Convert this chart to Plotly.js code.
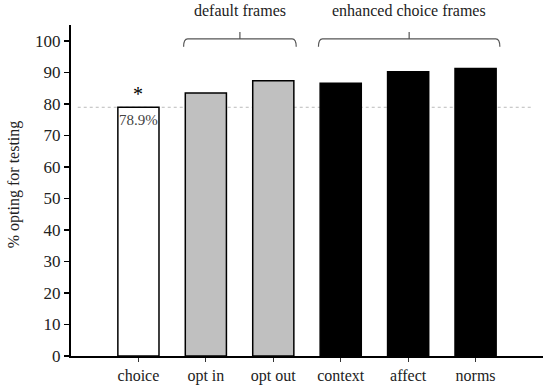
<!DOCTYPE html>
<html><head><meta charset="utf-8">
<script src="https://cdn.plot.ly/plotly-3.0.1.min.js"></script>
<style>body{margin:0;background:#fff}#c{width:550px;height:389px}</style>
</head><body><div id="c"></div>
<script>
var categories = ["choice", "opt in", "opt out", "context", "affect", "norms"];
var values = [78.9, 83.4, 87.3, 86.5, 90.2, 91.2];
var yTicks = [0, 10, 20, 30, 40, 50, 60, 70, 80, 90, 100];
var groupLabels = ["default frames", "enhanced choice frames"];
var groupSpans = [[0.67, 2.34], [2.67, 5.36]];
var choiceLabel = "78.9%";

var barColors = ["#ffffff", "#c0c0c0", "#c0c0c0", "#000000", "#000000", "#000000"];
var FONT = "'Liberation Serif', 'DejaVu Serif', serif";

function bracket(x1, x2) {
  var yE = 0.934, yH = 0.958, yT = 0.979, dx = 0.06, xc = (x1 + x2) / 2;
  return "M " + x1 + "," + yE + " Q " + x1 + "," + yH + " " + (x1 + dx) + "," + yH +
    " L " + (x2 - dx) + "," + yH + " Q " + x2 + "," + yH + " " + x2 + "," + yE +
    " M " + xc + "," + yH + " L " + xc + "," + yT;
}

var shapes = [{
  type: "line", xref: "x", yref: "y", x0: -0.9, x1: 5.85, y0: values[0], y1: values[0],
  line: {color: "#bbbbbb", width: 1, dash: "dot"}, layer: "below"
}];
var annotations = [];
groupSpans.forEach(function (s, i) {
  shapes.push({type: "path", xref: "x", yref: "paper", path: bracket(s[0], s[1]),
    line: {color: "#555", width: 1.2}});
  annotations.push({xref: "x", yref: "paper", x: (s[0] + s[1]) / 2, y: 1.045,
    yanchor: "middle", text: groupLabels[i], showarrow: false,
    font: {family: FONT, size: 16, color: "#222"}});
});
annotations.push({xref: "x", yref: "y", x: 0, y: values[0] + 4.3, text: "*", showarrow: false,
  font: {family: FONT, size: 20, color: "#000"}});
annotations.push({xref: "x", yref: "y", x: 0, y: values[0] - 4, text: choiceLabel, showarrow: false,
  font: {family: FONT, size: 15, color: "#444"}});
annotations.push({xref: "paper", yref: "paper", x: -0.12, y: 0.52, text: "% opting for testing",
  textangle: -90, showarrow: false, xanchor: "center", yanchor: "middle",
  font: {family: FONT, size: 16, color: "#222"}});

var trace = {
  type: "bar", x: categories, y: values, width: 0.61,
  marker: {color: barColors, line: {color: "#000", width: 1.5}},
  hoverinfo: "skip"
};

var layout = {
  width: 550, height: 389,
  margin: {l: 71, r: 7, t: 25, b: 33},
  paper_bgcolor: "#fff", plot_bgcolor: "#fff",
  showlegend: false,
  xaxis: {range: [-1, 6], showline: true, linecolor: "#000", linewidth: 2,
    ticks: "outside", ticklen: 4, tickcolor: "#333", tickwidth: 1, showgrid: false, zeroline: false,
    tickfont: {family: FONT, size: 16, color: "#222"}, fixedrange: true},
  yaxis: {range: [0, 105], showline: true, linecolor: "#000", linewidth: 2,
    tickvals: yTicks, ticks: "outside", ticklen: 5, tickcolor: "#000", tickwidth: 1.5,
    showgrid: false, zeroline: false, tickfont: {family: FONT, size: 17, color: "#222"}, fixedrange: true},
  shapes: shapes, annotations: annotations
};
Plotly.newPlot("c", [trace], layout, {displayModeBar: false, staticPlot: true});
</script></body></html>
